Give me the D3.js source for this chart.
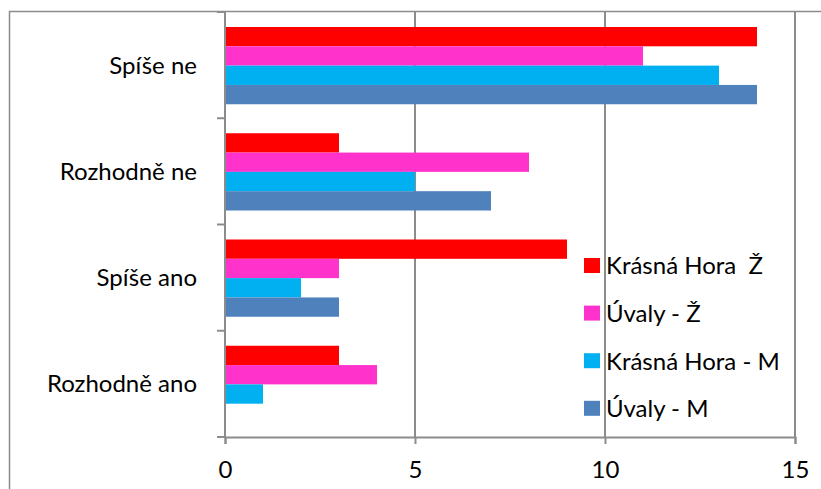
<!DOCTYPE html>
<html>
<head>
<meta charset="utf-8">
<script src="https://cdnjs.cloudflare.com/ajax/libs/d3/7.8.5/d3.min.js"></script>
<style>
  body { margin: 0; background: #fff; }
  text { font-family: Lato, "Open Sans", sans-serif; fill: #000; white-space: pre; }
</style>
</head>
<body>
<svg id="chart"></svg>
<script>
// categories top to bottom
var categories = ["Spíše ne", "Rozhodně ne", "Spíše ano", "Rozhodně ano"];
var seriesNames = ["Krásná Hora  Ž", "Úvaly - Ž", "Krásná Hora - M", "Úvaly - M"];
var seriesColors = ["#ff0000", "#ff33cc", "#00b0f0", "#4f81bd"];
var krasnaHoraZ = [14, 3, 9, 3];
var uvalyZ = [11, 8, 3, 4];
var krasnaHoraM = [13, 5, 2, 1];
var uvalyM = [14, 7, 3, 0];
var xTicks = [0, 5, 10, 15];

var seriesValues = [krasnaHoraZ, uvalyZ, krasnaHoraM, uvalyM];

var W = 821, H = 489;
var margin = {top: 12, right: 26, bottom: 52, left: 225},
    width = W - margin.left - margin.right,
    height = H - margin.top - margin.bottom;
var fontSize = "24px";

var root = d3.select("#chart").attr("width", W).attr("height", H);

// outer chart border (extends beyond view)
root.append("rect")
    .attr("x", 9.5).attr("y", 11.5)
    .attr("width", 900).attr("height", 600)
    .attr("fill", "none").attr("stroke", "#8c8c8c").attr("stroke-width", 1.5);

var svg = root.append("g")
    .attr("transform", "translate(" + margin.left + "," + margin.top + ")");

var x = d3.scaleLinear().domain([0, 15]).range([0, width]);
var y = d3.scaleBand().domain(categories).range([0, height]);
var inner = d3.scaleBand().domain(d3.range(4))
    .range([15, y.bandwidth() - 14]);

// vertical gridlines
svg.selectAll(".grid")
    .data(xTicks.slice(1))
    .enter().append("line")
    .attr("x1", function(d) { return x(d); })
    .attr("x2", function(d) { return x(d); })
    .attr("y1", 0).attr("y2", height)
    .attr("stroke", "#8c8c8c").attr("stroke-width", 2);

// bars
var groups = svg.selectAll(".cat")
    .data(categories)
    .enter().append("g")
    .attr("transform", function(d) { return "translate(0," + y(d) + ")"; });

groups.selectAll("rect")
    .data(function(d, ci) {
        return seriesValues.map(function(vals, si) { return {s: si, v: vals[ci]}; });
    })
    .enter().append("rect")
    .attr("x", 0)
    .attr("y", function(d) { return inner(d.s); })
    .attr("height", inner.bandwidth())
    .attr("width", function(d) { return x(d.v); })
    .attr("fill", function(d) { return seriesColors[d.s]; });

// x axis
var xAxis = svg.append("g")
    .attr("transform", "translate(0," + height + ")")
    .call(d3.axisBottom(x).tickValues(xTicks).tickSize(7).tickPadding(17));
xAxis.select(".domain").attr("stroke", "#8c8c8c").attr("stroke-width", 2);
xAxis.selectAll(".tick line").attr("stroke", "#8c8c8c").attr("stroke-width", 2);
xAxis.selectAll("text").style("font-size", fontSize).style("font-family", "Lato, sans-serif").attr("fill", "#000");

// y axis with ticks between categories
svg.append("line")
    .attr("x1", 0).attr("x2", 0).attr("y1", 0).attr("y2", height)
    .attr("stroke", "#8c8c8c").attr("stroke-width", 2);
svg.selectAll(".ytick")
    .data(d3.range(categories.length + 1))
    .enter().append("line")
    .attr("x1", -8).attr("x2", 0)
    .attr("y1", function(i) { return i * y.step(); })
    .attr("y2", function(i) { return i * y.step(); })
    .attr("stroke", "#8c8c8c").attr("stroke-width", 2);

svg.selectAll(".ylabel")
    .data(categories)
    .enter().append("text")
    .attr("x", -28)
    .attr("y", function(d) { return y(d) + y.bandwidth() / 2; })
    .attr("dy", "0.35em")
    .attr("text-anchor", "end")
    .style("font-size", fontSize)
    .text(function(d) { return d; });

// legend
var legend = root.append("g").attr("transform", "translate(584,266)");
var item = legend.selectAll("g")
    .data(seriesNames)
    .enter().append("g")
    .attr("transform", function(d, i) { return "translate(0," + (i * 47.6) + ")"; });
item.append("rect")
    .attr("x", 0).attr("y", -8).attr("width", 16).attr("height", 15)
    .attr("fill", function(d, i) { return seriesColors[i]; });
item.append("text")
    .attr("x", 22).attr("y", 0).attr("dy", "0.35em")
    .style("font-size", fontSize)
    .text(function(d) { return d; });
</script>
</body>
</html>
